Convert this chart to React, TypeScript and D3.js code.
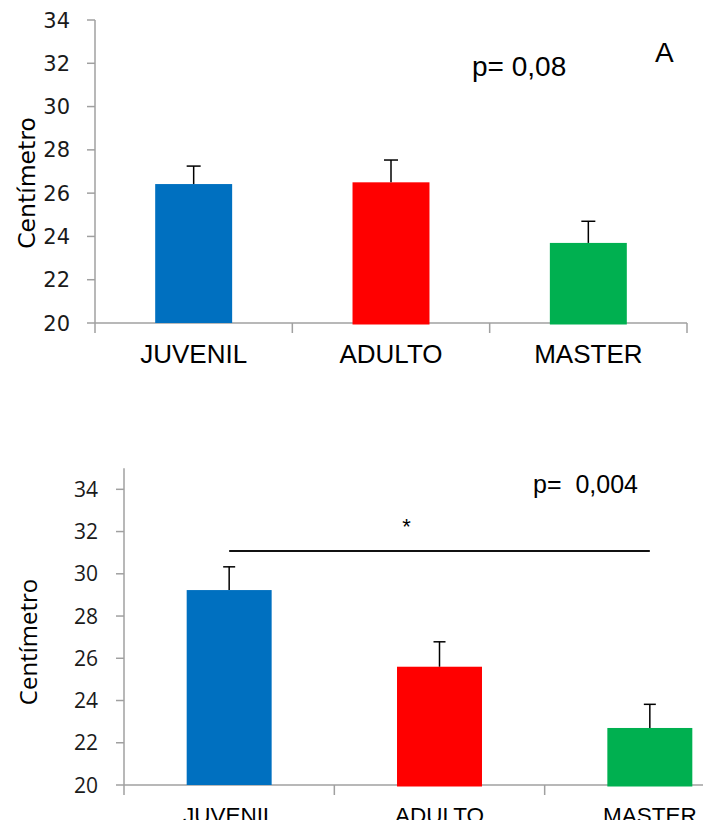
import React, { useEffect, useRef } from 'react';
import * as d3 from 'd3';

// data
const categories = ['JUVENIL', 'ADULTO', 'MASTER'];
const colors = ['#0070C0', '#FF0000', '#00B050'];

const topMeans = [26.42, 26.5, 23.7];
const topErrors = [0.83, 1.03, 1.0];
const topTicks = [20, 22, 24, 26, 28, 30, 32, 34];

const bottomMeans = [29.23, 25.6, 22.7];
const bottomErrors = [1.1, 1.18, 1.12];
const bottomTicks = [20, 22, 24, 26, 28, 30, 32, 34];
const bottomSignificance = { from: 'JUVENIL', to: 'MASTER', value: 31.08 };

const App = () => {
  const ref = useRef<SVGSVGElement>(null);

  useEffect(() => {
    const svg = d3.select(ref.current);
    svg.selectAll('*').remove();

    // the bottom labels are cut by the picture's edge in the original
    svg.append('defs')
      .append('clipPath')
      .attr('id', 'bottom-clip')
      .append('rect')
      .attr('x', 0).attr('y', 0)
      .attr('width', 703).attr('height', 820);

    const drawPanel = (opts: any) => {
      const g = svg.append('g');
      const x = d3.scaleBand().domain(categories).range(opts.xRange).padding(0);
      const y = d3.scaleLinear().domain(opts.yDomain).range(opts.yRange);
      const base = y(opts.yDomain[0]);
      const bw = x.bandwidth() * opts.barRatio;
      const x0 = opts.xRange[0];

      // y axis
      g.append('line')
        .attr('x1', x0).attr('x2', x0)
        .attr('y1', y(opts.yDomain[1])).attr('y2', base + 10)
        .attr('stroke', '#A0A0A0').attr('stroke-width', 1.5);
      opts.ticks.forEach((t: number) => {
        g.append('line')
          .attr('x1', x0 - 8).attr('x2', x0)
          .attr('y1', y(t)).attr('y2', y(t))
          .attr('stroke', '#A0A0A0').attr('stroke-width', 1.5);
        g.append('text')
          .attr('x', x0 - opts.labelGap)
          .attr('y', y(t))
          .attr('dy', '0.36em')
          .attr('text-anchor', 'end')
          .attr('font-family', opts.tickFont)
          .attr('font-size', opts.tickSize)
          .attr('fill', '#1a1a1a')
          .text(t);
      });

      // x axis
      g.append('line')
        .attr('x1', x0).attr('x2', opts.xRange[1])
        .attr('y1', base).attr('y2', base)
        .attr('stroke', '#A0A0A0').attr('stroke-width', 1.5);
      const labels = g.append('g');
      if (opts.clip) labels.attr('clip-path', 'url(#bottom-clip)');
      categories.forEach((c) => {
        const xe = x(c)! + x.bandwidth();
        g.append('line')
          .attr('x1', xe).attr('x2', xe)
          .attr('y1', base).attr('y2', base + 10)
          .attr('stroke', '#A0A0A0').attr('stroke-width', 1.5);
        labels.append('text')
          .attr('x', x(c)! + x.bandwidth() / 2)
          .attr('y', opts.catBaseline)
          .attr('text-anchor', 'middle')
          .attr('font-family', 'Liberation Sans, Arial, sans-serif')
          .attr('font-size', opts.catSize)
          .attr('fill', '#000')
          .text(c);
      });

      // bars
      g.selectAll('rect.bar')
        .data(opts.means)
        .enter()
        .append('rect')
        .attr('x', (_: any, i: number) => x(categories[i])! + (x.bandwidth() - bw) / 2)
        .attr('y', (d: number) => y(d))
        .attr('width', bw)
        .attr('height', (d: number, i: number) => base - y(d) + (i === 0 ? 0 : 1.5))
        .attr('fill', (_: any, i: number) => colors[i]);

      // error bars
      opts.means.forEach((m: number, i: number) => {
        const cx = x(categories[i])! + x.bandwidth() / 2;
        const top = y(m + opts.errors[i]);
        g.append('line')
          .attr('x1', cx).attr('x2', cx)
          .attr('y1', y(m)).attr('y2', top)
          .attr('stroke', '#000').attr('stroke-width', 1.5);
        g.append('line')
          .attr('x1', cx - opts.cap / 2).attr('x2', cx + opts.cap / 2)
          .attr('y1', top).attr('y2', top)
          .attr('stroke', '#000').attr('stroke-width', 1.5);
      });

      // y title
      g.append('text')
        .attr('transform', `translate(27,${opts.titleY}) rotate(-90)`)
        .attr('text-anchor', 'middle')
        .attr('dominant-baseline', 'central')
        .attr('font-family', opts.titleFont)
        .attr('font-size', opts.titleSize)
        .attr('fill', '#000')
        .text('Centímetro');

      return { g, x, y };
    };

    const top = drawPanel({
      xRange: [95, 687],
      yDomain: [20, 34],
      yRange: [323, 20],
      means: topMeans,
      errors: topErrors,
      ticks: topTicks,
      barRatio: 0.39,
      cap: 14,
      labelGap: 25,
      tickFont: 'DejaVu Sans, sans-serif',
      tickSize: 21,
      catBaseline: 363,
      catSize: 26,
      titleY: 183,
      titleFont: 'DejaVu Sans, sans-serif',
      titleSize: 23.5,
      clip: false,
    });
    top.g.append('text')
      .attr('x', 472).attr('y', 76)
      .attr('font-family', 'Liberation Sans, Arial, sans-serif')
      .attr('font-size', 28)
      .text('p= 0,08');
    top.g.append('text')
      .attr('x', 655).attr('y', 62)
      .attr('font-family', 'Liberation Sans, Arial, sans-serif')
      .attr('font-size', 28)
      .text('A');

    const bottom = drawPanel({
      xRange: [124, 755],
      yDomain: [20, 35],
      yRange: [785, 785 - 15 * 21.12],
      means: bottomMeans,
      errors: bottomErrors,
      ticks: bottomTicks,
      barRatio: 0.404,
      cap: 12,
      labelGap: 26,
      tickFont: 'Open Sans, sans-serif',
      tickSize: 21,
      catBaseline: 823,
      catSize: 22.5,
      titleY: 642,
      titleFont: 'Open Sans, sans-serif',
      titleSize: 24,
      clip: true,
    });
    const bx = bottom.x;
    const by = bottom.y;
    const sx1 = bx(bottomSignificance.from)! + bx.bandwidth() / 2;
    const sx2 = bx(bottomSignificance.to)! + bx.bandwidth() / 2;
    bottom.g.append('line')
      .attr('x1', sx1).attr('x2', sx2)
      .attr('y1', by(bottomSignificance.value)).attr('y2', by(bottomSignificance.value))
      .attr('stroke', '#111').attr('stroke-width', 2);
    bottom.g.append('text')
      .attr('x', bx('ADULTO')! + bx.bandwidth() / 2 - 33)
      .attr('y', by(bottomSignificance.value) - 17)
      .attr('text-anchor', 'middle')
      .attr('font-family', 'Liberation Sans, Arial, sans-serif')
      .attr('font-size', 22)
      .text('*');
    bottom.g.append('text')
      .attr('x', 533).attr('y', 493)
      .attr('font-family', 'Liberation Sans, Arial, sans-serif')
      .attr('font-size', 25)
      .attr('xml:space', 'preserve')
      .style('white-space', 'pre')
      .text('p=  0,004');
  }, []);

  return (
    <svg
      ref={ref}
      width={703}
      height={825}
      style={{ position: 'absolute', left: 0, top: 0, background: '#fff' }}
    />
  );
};

export default App;
